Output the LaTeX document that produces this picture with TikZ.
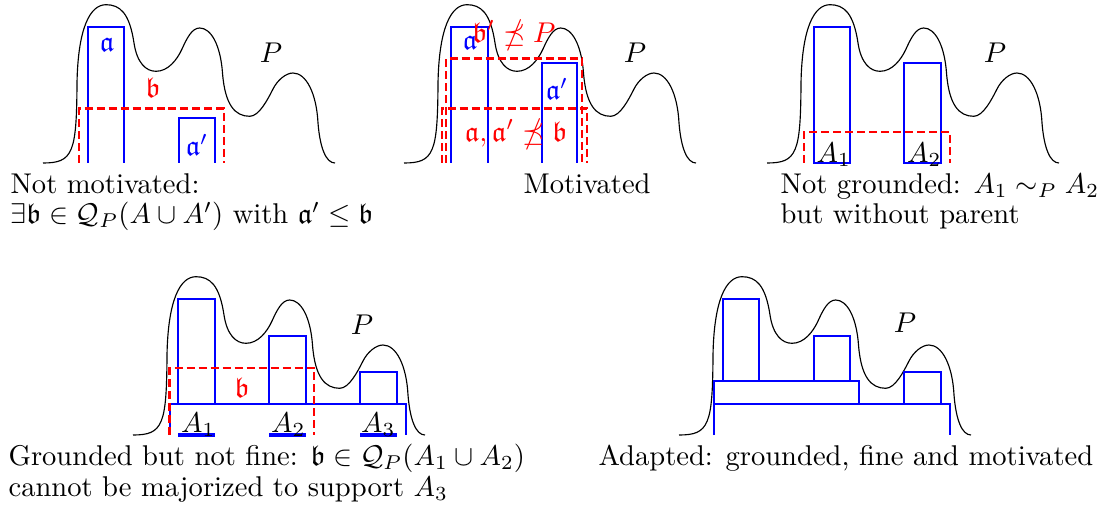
\documentclass[tikz,border=0pt]{standalone}
\usepackage{amssymb}
\usepackage{tikz}
\tikzset{
  density/.pic={\draw[curveline] (0,0) .. controls (30,0) and (33.6,-10) .. (34,-80)
    .. controls (35,-135) and (47,-158.3) .. (63,-158.3)
    .. controls (77,-158.3) and (86.5,-150) .. (91,-120)
    .. controls (94,-100) and (103,-91.7) .. (113,-91.7)
    .. controls (125,-91.7) and (134,-103) .. (139,-114)
    .. controls (144,-125) and (149,-135) .. (156.7,-135)
    .. controls (168,-135) and (177.5,-118) .. (179.5,-90)
    .. controls (182,-58) and (192,-46.7) .. (206.7,-46.7)
    .. controls (216,-46.7) and (224.6,-63.3) .. (230,-74)
    .. controls (234.5,-83) and (243,-90) .. (250,-90)
    .. controls (263,-90) and (273.5,-70) .. (275,-40)
    .. controls (277,-15) and (283,0) .. (292,0);},
  curveline/.style={black, line width=0.4pt},
  suppbox/.style={blue, line width=0.8pt},
  suppline/.style={blue, line width=1.2pt},
  parbox/.style={red, line width=0.8pt, dash pattern=on 2.8pt off 1.4pt},
  bluelbl/.style={text=blue, inner sep=0pt},
  redlbl/.style={text=red, inner sep=0pt},
  plbl/.style={inner sep=0pt},
  setlbl/.style={anchor=base west, inner sep=0pt},
  captext/.style={anchor=base west, inner sep=0pt}
}
\begin{document}
\begin{tikzpicture}[x=0.35pt, y=-0.35pt]
\useasboundingbox (0,0) rectangle (1105,514);

\pic at (43,163) {density};
\draw[suppbox] (88,163) |- (124,27) -- (124,163);
\draw[suppbox] (179,163) |- (215,118) -- (215,163);
\draw[parbox] (79,163) |- (224,108.5) -- (224,163);
\node[bluelbl] (a1) at (107,45) {$\mathfrak{a}$};
\node[redlbl] (b1) at (153,88) {$\mathfrak{b}$};
\node[bluelbl] (ap1) at (197,145) {$\mathfrak{a}'$};
\node[plbl] (P1) at (271,53) {$P$};
\node[captext] (cap1a) at (10,193) {Not motivated:};
\node[captext] (cap1b) at (10,223.5) {$\exists\mathfrak{b}\in\mathcal{Q}_P(A\cup A')$ with $\mathfrak{a}'\leq\mathfrak{b}$};

\pic at (404,163) {density};
\draw[suppbox] (451,163) |- (488,27) -- (488,163);
\draw[suppbox] (542,163) |- (577,63) -- (577,163);
\draw[parbox] (446,163) |- (582,58.5) -- (582,163);
\draw[parbox] (442,163) |- (587,108.5) -- (587,163);
\node[bluelbl] (a2) at (470,43) {$\mathfrak{a}$};
\node[redlbl] (bp2) at (514,35) {$\mathfrak{b}'\npreceq P$};
\node[bluelbl] (ap2) at (557,89) {$\mathfrak{a}'$};
\node[redlbl] (b2) at (516,134) {$\mathfrak{a},\mathfrak{a}'\npreceq\mathfrak{b}$};
\node[plbl] (P2) at (635,53) {$P$};
\node[captext] (cap2) at (523,193) {Motivated};

\pic at (767,163) {density};
\draw[suppbox] (814,27) rectangle (850,163);
\draw[suppbox] (904,63) rectangle (941,163);
\draw[parbox] (804,163) |- (950,132) -- (950,163);
\node[setlbl] (A13) at (816,162) {$A_1$};
\node[setlbl] (A23) at (906.5,162) {$A_2$};
\node[plbl] (P3) at (995,53) {$P$};
\node[captext] (cap3a) at (780,193) {Not grounded: $A_1\sim_P A_2$};
\node[captext] (cap3b) at (780,223.5) {but without parent};

\pic at (133,435) {density};
\draw[suppbox] (170,435) |- (406,404) -- (406,435);
\draw[suppbox] (178,299) rectangle (215,404);
\draw[suppbox] (269,336) rectangle (306,404);
\draw[suppbox] (360,372) rectangle (397,404);
\draw[suppline] (178,435) -- (215,435);
\draw[suppline] (269,435) -- (306,435);
\draw[suppline] (360,435) -- (397,435);
\draw[parbox] (169.5,435) |- (314,368) -- (314,435);
\node[redlbl] (b4) at (242,388) {$\mathfrak{b}$};
\node[setlbl] (A14) at (180.5,432) {$A_1$};
\node[setlbl] (A24) at (270.5,432) {$A_2$};
\node[setlbl] (A34) at (360.5,432) {$A_3$};
\node[plbl] (P4) at (362,325) {$P$};
\node[captext] (cap4a) at (8,465) {Grounded but not fine: $\mathfrak{b}\in\mathcal{Q}_P(A_1\cup A_2)$};
\node[captext] (cap4b) at (8,496) {cannot be majorized to support $A_3$};

\pic at (679,435) {density};
\draw[suppbox] (714,435) |- (950,404) -- (950,435);
\draw[suppbox] (714,381) rectangle (859,404);
\draw[suppbox] (723,299) rectangle (759,381);
\draw[suppbox] (814,336) rectangle (850,381);
\draw[suppbox] (904,372) rectangle (941,404);
\node[plbl] (P5) at (905,323) {$P$};
\node[captext] (cap5) at (598,465) {Adapted: grounded, fine and motivated};
\end{tikzpicture}
\end{document}
